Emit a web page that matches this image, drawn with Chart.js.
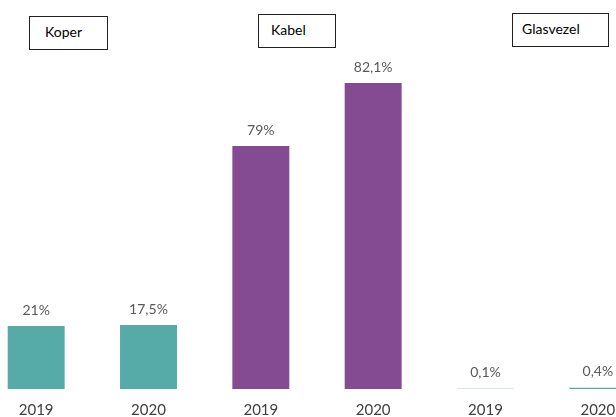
<!DOCTYPE html>
<html>
<head>
<meta charset="utf-8">
<script src="https://cdn.jsdelivr.net/npm/chart.js@4/dist/chart.umd.min.js"></script>
<style>
  html, body { margin: 0; padding: 0; background: #fff; overflow: hidden; }
  body { width: 616px; height: 417px; position: relative; font-family: Lato, "Open Sans", sans-serif; }
  #wrap { position: absolute; left: -20px; top: 0; width: 674px; height: 431px; }
  .box { position: absolute; border: 1.5px solid #222; box-sizing: border-box; font-size: 14px; color: #000; line-height: 30px; }
</style>
</head>
<body>
<div class="box" style="left:29px; top:16px; width:79px; height:34px; padding-left:15px;">Koper</div>
<div class="box" style="left:258px; top:14px; width:78px; height:34px; padding-left:12px;">Kabel</div>
<div class="box" style="left:512px; top:13px; width:97px; height:34px; padding-left:9px;">Glasvezel</div>
<div id="wrap"><canvas id="netChart"></canvas></div>
<script>
// categories: year per technology (Koper, Kabel, Glasvezel)
const years = ["2019", "2020", "2019", "2020", "2019", "2020"];
// bar heights as drawn in the picture
const barValues = [21, 21.3, 81, 102, 0.1, 0.4];
// printed labels above the bars
const valueLabels = ["21%", "17,5%", "79%", "82,1%", "0,1%", "0,4%"];
const barColors = ["#56aaa8", "#56aaa8", "#844b92", "#844b92", "#56aaa8", "#56aaa8"];

const labelPlugin = {
  id: "valueLabels",
  afterDatasetsDraw(chart) {
    const ctx = chart.ctx;
    const meta = chart.getDatasetMeta(0);
    ctx.save();
    ctx.font = "14px Lato, sans-serif";
    ctx.fillStyle = "#595959";
    ctx.textAlign = "center";
    ctx.textBaseline = "middle";
    meta.data.forEach((bar, i) => {
      ctx.fillText(valueLabels[i], bar.x, bar.y - 16);
    });
    ctx.restore();
  },
};

const ctx = document.getElementById("netChart").getContext("2d");
const netChart = new Chart(ctx, {
  type: "bar",
  data: {
    labels: years,
    datasets: [
      {
        data: barValues,
        backgroundColor: barColors,
        barPercentage: 0.507,
        categoryPercentage: 1,
      },
    ],
  },
  options: {
    responsive: true,
    maintainAspectRatio: false,
    animation: false,
    layout: { padding: { top: 29, left: 0, right: 0, bottom: 0 } },
    plugins: {
      legend: { display: false },
      tooltip: { enabled: false },
    },
    scales: {
      x: {
        grid: { display: false, drawTicks: false },
        border: { display: false },
        ticks: {
          color: "#404040",
          padding: 12,
          font: { family: "Lato", size: 15 },
        },
      },
      y: {
        display: false,
        min: 0,
        max: 120,
      },
    },
  },
  plugins: [labelPlugin],
});
</script>
</body>
</html>
